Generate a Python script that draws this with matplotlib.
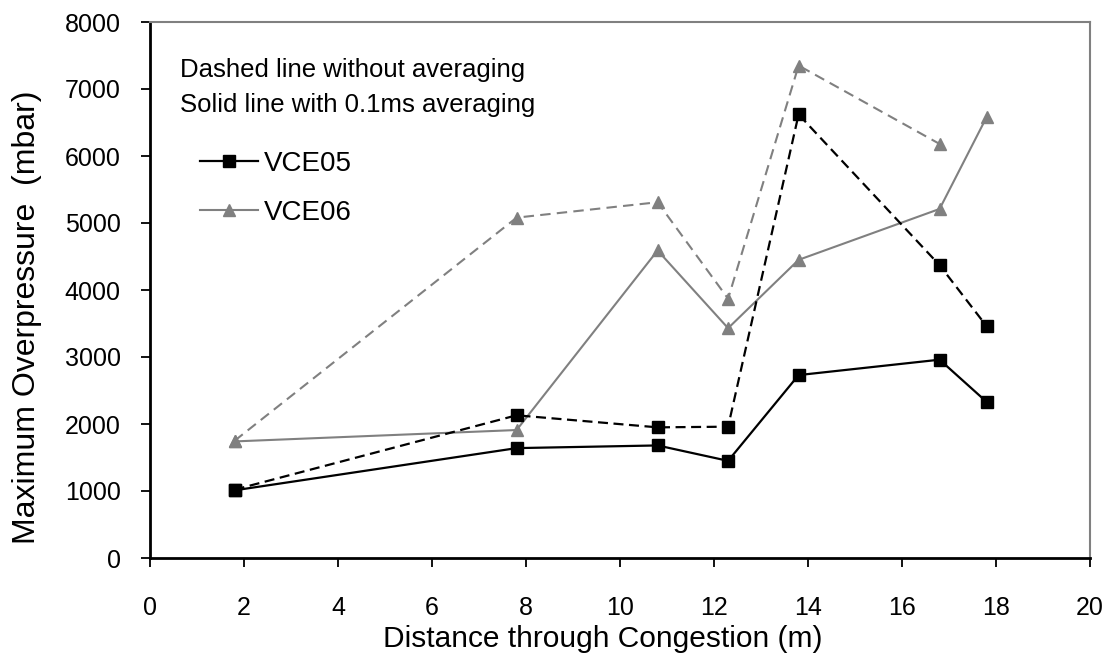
import matplotlib
matplotlib.use("Agg")
import matplotlib.pyplot as plt
from matplotlib.lines import Line2D

plt.rcParams['font.family'] = ['Liberation Sans', 'DejaVu Sans']

x_pos = [1.8, 7.8, 10.8, 12.3, 13.8, 16.8, 17.8]
vce05_raw = [1020, 2130, 1950, 1960, 6620, 4370, 3460]
vce05_avg = [1010, 1640, 1680, 1450, 2730, 2960, 2330]
x_pos06_raw = [1.8, 7.8, 10.8, 12.3, 13.8, 16.8]
vce06_raw = [1750, 5080, 5310, 3870, 7350, 6180]
vce06_avg = [1740, 1910, 4590, 3430, 4450, 5210, 6580]
x_ticks = [0, 2, 4, 6, 8, 10, 12, 14, 16, 18, 20]
y_ticks = [0, 1000, 2000, 3000, 4000, 5000, 6000, 7000, 8000]

gray = '#808080'
W, H = 1112, 666

fig = plt.figure(figsize=(W / 100, H / 100), dpi=100)
ax = fig.add_axes([150 / W, 1 - 558 / H, (1090 - 150) / W, (558 - 22) / H])

ax.plot(x_pos06_raw, vce06_raw, color=gray, ls=(0, (5, 3)), lw=1.5, marker='^', ms=9,
        mec=gray, mfc=gray, zorder=2)
ax.plot(x_pos, vce06_avg, color=gray, ls='-', lw=1.5, marker='^', ms=9,
        mec=gray, mfc=gray, zorder=2)
ax.plot(x_pos, vce05_raw, color='black', ls=(0, (4.5, 2.5)), lw=1.6, marker='s', ms=9,
        mec='black', mfc='black', zorder=3)
ax.plot(x_pos, vce05_avg, color='black', ls='-', lw=1.6, marker='s', ms=9,
        mec='black', mfc='black', zorder=3)

ax.set_xlim(0, 20)
ax.set_ylim(0, 8000)
ax.set_xticks(x_ticks)
ax.set_yticks(y_ticks)
ax.tick_params(direction='out', length=6.5, width=1.3, labelsize=18)
ax.tick_params(axis='x', pad=21)
ax.tick_params(axis='y', pad=14.5)

for s in ['left', 'bottom']:
    ax.spines[s].set_linewidth(2)
    ax.spines[s].set_color('black')
for s in ['top', 'right']:
    ax.spines[s].set_linewidth(1.5)
    ax.spines[s].set_color(gray)

fig.text(603 / W, 1 - 647 / H, 'Distance through Congestion (m)', fontsize=21.5,
         ha='center', va='baseline')
fig.text(27 / W, 1 - 317 / H, 'Maximum Overpressure  (mbar)', fontsize=23,
         rotation=90, ha='center', va='center')

ax.text(30 / 940, (558 - 77) / 536, 'Dashed line without averaging',
        transform=ax.transAxes, fontsize=18.5, va='baseline', ha='left')
ax.text(30 / 940, (558 - 112) / 536, 'Solid line with 0.1ms averaging',
        transform=ax.transAxes, fontsize=18.5, va='baseline', ha='left')

handles = [Line2D([], [], color='black', lw=1.6, marker='s', ms=8),
           Line2D([], [], color=gray, lw=1.5, marker='^', ms=9)]
ax.legend(handles, ['VCE05', 'VCE06'], loc='upper left',
          bbox_to_anchor=(50 / 940, (558 - 151) / 536),
          frameon=False, fontsize=20, handlelength=2.1, labelspacing=0.83,
          handletextpad=0.2, borderpad=0, borderaxespad=0)

fig.savefig('out.png', dpi=100)
